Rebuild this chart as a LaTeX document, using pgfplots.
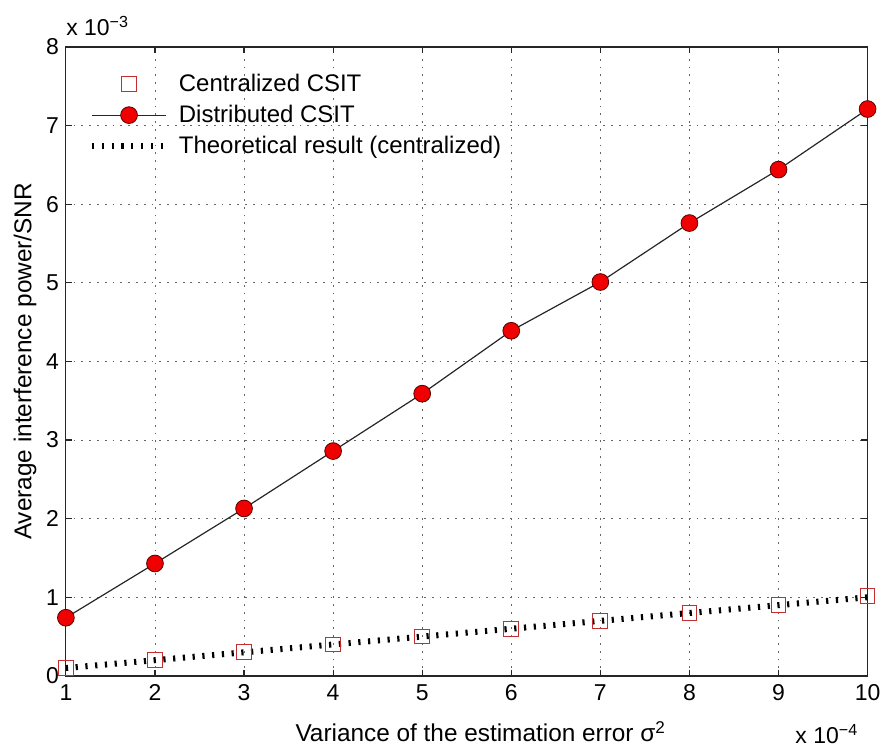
\documentclass[border=0pt]{standalone}
\usepackage{fontspec}
\setmainfont{Liberation Sans}
\usepackage{pgfplots}
\pgfplotsset{compat=1.18}

\definecolor{cSq}{HTML}{C03030}
\definecolor{cDot}{HTML}{F00000}

\begin{document}
\begin{tikzpicture}
  \begin{axis}[
    name=ax,
    scale only axis, width=401.5pt, height=315pt,
    xmin=1, xmax=10, ymin=0, ymax=8,
    xtick={1,...,10}, ytick={0,...,8},
    grid=major,
    grid style={black!60, line width=0.4pt, dash pattern=on 0.9pt off 3pt},
    axis line style={black!85, line width=0.6pt},
    tick style={black!85, line width=0.6pt},
    major tick length=3.2pt, tick align=inside,
    /pgf/number format/assume math mode=true,
    ticklabel style={font=\fontsize{11.5}{13}\selectfont},
    xticklabel style={yshift=-1pt},
    xlabel={Variance of the estimation error σ\textsuperscript{2}},
    ylabel={Average interference power/SNR},
    label style={font=\fontsize{12.2}{14}\selectfont},
    xlabel style={at={(axis description cs:0.5,0)}, anchor=base, yshift=-33pt, xshift=7pt},
    ylabel style={at={([xshift=-20.5pt]axis description cs:0,0.5)}, anchor=center},
    legend style={at={(0.021,0.97)}, anchor=north west, draw=none, fill=none,
                  font=\fontsize{12}{14}\selectfont, row sep=1.2pt,
                  nodes={inner xsep=5pt}},
    legend cell align=left,
    legend image code/.code={\draw[mark repeat=2,mark phase=2,#1]
      plot coordinates {(0cm,0cm) (0.65cm,0cm) (1.3cm,0cm)};},
    theo/.style={black, line width=3pt, dash pattern=on 1.1pt off 3.8pt},
  ]
    % theoretical line first, so the squares lie over it
    \addplot[theo, forget plot] coordinates {(1,0.10) (10,1.00)};
    \addplot[only marks, mark=square, mark size=3.7pt,
             mark options={draw=cSq, line width=0.5pt}]
      coordinates {(1,0.10) (2,0.20) (3,0.30) (4,0.40) (5,0.50)
                   (6,0.60) (7,0.70) (8,0.80) (9,0.90) (10,1.02)};
    \addplot[black!85, line width=0.6pt, mark=*, mark size=4.2pt,
             mark options={fill=cDot, draw=red!35!black, line width=0.4pt}]
      coordinates {(1,0.74) (2,1.43) (3,2.13) (4,2.86) (5,3.59)
                   (6,4.39) (7,5.01) (8,5.76) (9,6.44) (10,7.21)};
    \addlegendimage{theo}
    \legend{Centralized CSIT, Distributed CSIT, Theoretical result (centralized)}
  \end{axis}
  \node[anchor=base west, inner sep=0, font=\fontsize{11.5}{13}\selectfont]
    at ([yshift=5.5pt]ax.north west) {x 10\textsuperscript{−3}};
  \node[anchor=base east, inner sep=0, font=\fontsize{11.5}{13}\selectfont]
    at ([xshift=-4.5pt,yshift=-34pt]ax.south east) {x 10\textsuperscript{−4}};
  \path[use as bounding box] ([xshift=-33pt,yshift=-37pt]ax.south west)
    rectangle ++(443.5pt,375.5pt);
\end{tikzpicture}
\end{document}
